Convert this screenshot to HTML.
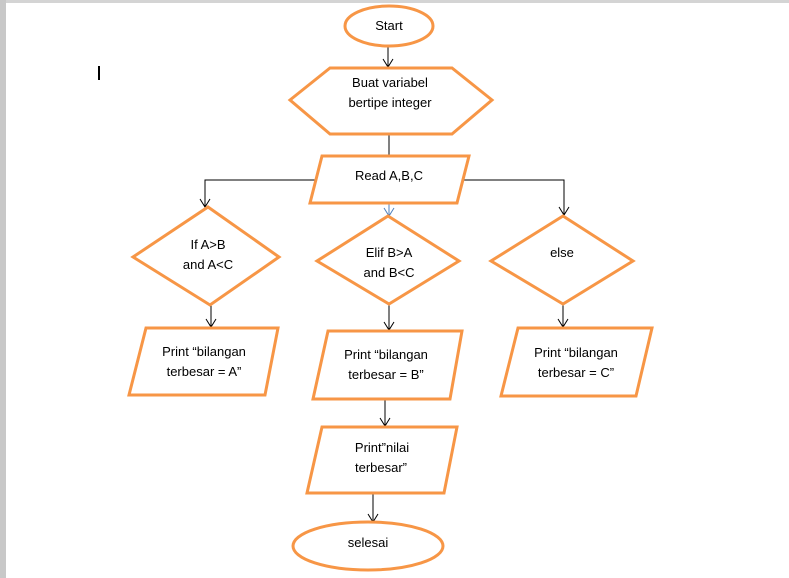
<!DOCTYPE html>
<html><head><meta charset="utf-8"><style>
html,body{margin:0;padding:0;background:#fff;}
svg{display:block;}
text{font-family:"Liberation Sans",sans-serif;font-size:13px;fill:#000;text-anchor:middle;}
</style></head><body>
<svg width="789" height="578" viewBox="0 0 789 578" xmlns="http://www.w3.org/2000/svg">
<defs>
<marker id="a" markerWidth="12" markerHeight="12" refX="10" refY="6" orient="auto" markerUnits="userSpaceOnUse">
<path d="M2,1 L10,6 L2,11" fill="none" stroke="#000" stroke-width="1"/></marker>
<marker id="b" markerWidth="12" markerHeight="12" refX="10" refY="6" orient="auto" markerUnits="userSpaceOnUse">
<path d="M2,1 L10,6 L2,11" fill="none" stroke="#4f81bd" stroke-width="1"/></marker>
</defs>
<rect x="0" y="0" width="789" height="3" fill="#d4d4d4"/>
<rect x="0" y="0" width="6" height="578" fill="#c8c8c8"/>
<rect x="98" y="66" width="2" height="14" fill="#000"/>
<g fill="none" stroke="#000" stroke-width="1">
<line x1="388" y1="46" x2="388" y2="67" marker-end="url(#a)"/>
<line x1="389" y1="134" x2="389" y2="156"/>
<polyline points="317,180 205,180 205,207" marker-end="url(#a)"/>
<polyline points="461,180 564,180 564,215" marker-end="url(#a)"/>
<line x1="211" y1="305" x2="211" y2="327" marker-end="url(#a)"/>
<line x1="389" y1="304" x2="389" y2="330" marker-end="url(#a)"/>
<line x1="563" y1="304" x2="563" y2="327" marker-end="url(#a)"/>
<line x1="385" y1="396" x2="385" y2="426" marker-end="url(#a)"/>
<line x1="373" y1="493" x2="373" y2="522" marker-end="url(#a)"/>
<line x1="389" y1="203" x2="389" y2="216" stroke="#4f81bd" marker-end="url(#b)"/>
</g>
<g fill="#fff" stroke="#f79646" stroke-width="3">
<ellipse cx="389" cy="26" rx="44" ry="20"/>
<polygon points="290,100 330,68 452,68 492,100 452,134 330,134"/>
<polygon points="322,156 469,156 457,203 310,203"/>
<polygon points="208,207 279,257 210,305 133,257"/>
<polygon points="388,216 459,261 389,304 317,261"/>
<polygon points="563,216 633,261 563,304 491,261"/>
<polygon points="146,328 278,328 265,395 129,395"/>
<polygon points="328,331 462,331 450,399 313,399"/>
<polygon points="518,328 652,328 636,396 501,396"/>
<polygon points="322,427 457,427 444,493 307,493"/>
<ellipse cx="368" cy="546" rx="75" ry="24"/>
</g>
<text x="389" y="30">Start</text>
<text x="390" y="87">Buat variabel</text>
<text x="390" y="107">bertipe integer</text>
<text x="389" y="180">Read A,B,C</text>
<text x="208" y="249">If A&gt;B</text>
<text x="208" y="269">and A&lt;C</text>
<text x="389" y="257">Elif B&gt;A</text>
<text x="389" y="277">and B&lt;C</text>
<text x="562" y="257">else</text>
<text x="204" y="356">Print “bilangan</text>
<text x="204" y="376">terbesar = A”</text>
<text x="386" y="359">Print “bilangan</text>
<text x="386" y="379">terbesar = B”</text>
<text x="576" y="357">Print “bilangan</text>
<text x="576" y="377">terbesar = C”</text>
<text x="382" y="452">Print”nilai</text>
<text x="381" y="472">terbesar”</text>
<text x="368" y="547">selesai</text>
</svg>
</body></html>
